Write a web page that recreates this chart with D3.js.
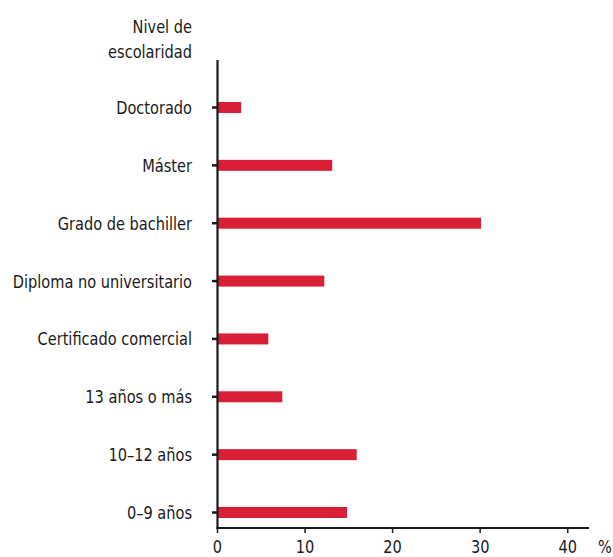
<!DOCTYPE html>
<html><head><meta charset="utf-8">
<script src="https://cdn.jsdelivr.net/npm/d3@7"></script>
<style>
body{margin:0;background:#fff;}
text{font-family:"DejaVu Sans Condensed","Liberation Sans Narrow",sans-serif;fill:#1a1a1a;}
</style></head><body>
<svg id="c" width="613" height="557"></svg>
<script>
const categories = ["Doctorado","Máster","Grado de bachiller","Diploma no universitario","Certificado comercial","13 años o más","10–12 años","0–9 años"];
const values = [2.7, 13.1, 30.1, 12.2, 5.8, 7.4, 15.9, 14.8];
const xTicks = [0, 10, 20, 30, 40];
const titleLines = ["Nivel de", "escolaridad"];
const unitLabel = "%";

const svg = d3.select("#c");
const x = d3.scaleLinear().domain([0, 40]).range([217.5, 567.7]);
const y = d3.scalePoint().domain(categories).range([107.5, 512.5]);
const barH = 11;
const axisX = 217.5, axisY = 528;
const sx = 0.9;

function txt(sel, fx, fy, anchor){
  return sel.append("text")
    .attr("transform", (d,i)=>`translate(${fx(d,i)},${fy(d,i)}) scale(${sx},1)`)
    .attr("text-anchor", anchor).attr("font-size", 18);
}

// bars
svg.selectAll("rect.bar").data(values).enter().append("rect")
  .attr("x", x(0)).attr("y", (d,i)=>y(categories[i]) - barH/2)
  .attr("width", d=>x(d)-x(0)).attr("height", barH)
  .attr("fill", "#d91f35");

// y axis line
svg.append("line").attr("x1",axisX).attr("x2",axisX).attr("y1",60).attr("y2",axisY+1)
  .attr("stroke","#1a1a1a").attr("stroke-width",2.2);
// y ticks
svg.selectAll("line.yt").data(categories).enter().append("line")
  .attr("x1",212).attr("x2",axisX).attr("y1",d=>y(d)).attr("y2",d=>y(d))
  .attr("stroke","#1a1a1a").attr("stroke-width",2.5);
txt(svg.selectAll("text.yl").data(categories).enter(), d=>192, d=>y(d)+6.5, "end").text(d=>d);

// x axis
svg.append("line").attr("x1",axisX-1).attr("x2",589).attr("y1",axisY).attr("y2",axisY)
  .attr("stroke","#1a1a1a").attr("stroke-width",2);
svg.selectAll("line.xt").data(xTicks).enter().append("line")
  .attr("x1",d=>x(d)).attr("x2",d=>x(d)).attr("y1",axisY).attr("y2",axisY+5)
  .attr("stroke","#1a1a1a").attr("stroke-width",1.5);
txt(svg.selectAll("text.xl").data(xTicks).enter(), d=>x(d), d=>553, "middle").text(d=>d);
txt(svg.selectAll("text.unit").data([unitLabel]).enter(), d=>605, d=>553, "middle").text(d=>d);

// title
txt(svg.selectAll("text.tt").data(titleLines).enter(), d=>192, (d,i)=>33+i*25, "end").text(d=>d);
</script></body></html>
